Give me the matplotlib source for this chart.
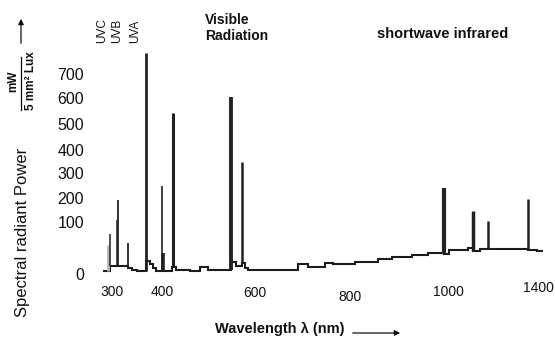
import numpy as np
import matplotlib
matplotlib.use("Agg")
import matplotlib.pyplot as plt

# ---------------- data ----------------
# continuum of the lamp spectrum as steps: edges (nm) and levels
step_edges_nm = [282, 296, 332, 340, 350, 367, 375, 381, 387, 421, 429, 460, 481, 498,
                 548, 559, 572, 578, 585, 691, 712, 747, 764, 810, 857, 886, 927, 959,
                 992, 1004, 1089, 1111, 1142, 1356, 1396, 1422]
step_levels = [7, 18, 14, 9.5, 8.5, 27, 21, 13.5, 8, 15, 9.5, 7, 16, 9.5,
               25.5, 18, 23, 13.5, 9.5, 21, 15, 23.5, 21, 25.5, 30, 34, 38.5,
               41.5, 40, 48, 51, 47, 50, 48, 46]
# emission lines
line_nm = [297, 309, 312.5, 332, 366.5, 398.5, 402, 422, 547.5, 572, 992, 1112, 1176, 1354]
line_power = [79, 113, 200, 61.5, 800, 256, 42, 546, 609, 354, 248, 153, 109, 204]
shadow_nm = [292]
shadow_power = [58]

xtick_values = [300, 400, 600, 800, 1000, 1400]
ytick_values = [0, 100, 200, 300, 400, 500, 600, 700]
band_labels = ["UVC", "UVB", "UVA"]

# ---------------- styles / layout ----------------
line_widths = [1.1, 1.1, 1.3, 1.3, 2.0, 1.2, 2.6, 2.2, 2.8, 1.8, 3.0, 2.5, 1.8, 1.8]
W, H = 555, 340

# broken (piecewise linear) axis scales, as in the original figure
X_VAL = np.array([300, 400, 600, 800, 1000, 1400.0])
X_POS = np.array([112, 162.5, 255, 350, 448, 538.0])
Y_VAL = np.array([0, 100, 200, 300, 400, 500, 600, 700.0])
Y_POS = -np.array([275, 223, 200, 175, 151, 125, 99, 76.0])


def piecewise(a, b):
    def f(v):
        v = np.asarray(v, float)
        out = np.interp(v, a, b)
        out = np.where(v < a[0], b[0] + (v - a[0]) * (b[1] - b[0]) / (a[1] - a[0]), out)
        out = np.where(v > a[-1], b[-1] + (v - a[-1]) * (b[-1] - b[-2]) / (a[-1] - a[-2]), out)
        return out
    return f


xf, xi = piecewise(X_VAL, X_POS), piecewise(X_POS, X_VAL)
yf, yi = piecewise(Y_VAL, Y_POS), piecewise(Y_POS, Y_VAL)

plt.rcParams['font.family'] = ['Liberation Sans', 'DejaVu Sans']

fig = plt.figure(figsize=(W / 100, H / 100), dpi=100)
ax = fig.add_axes([0, 0, 1, 1])
ax.set_xscale('function', functions=(xf, xi))
ax.set_yscale('function', functions=(yf, yi))
ax.set_xlim(float(xi(0)), float(xi(W)))
ax.set_ylim(float(yi(-H)), float(yi(0)))
ax.axis('off')

edges = np.array(step_edges_nm, float)
levels = np.array(step_levels, float)


def base_at(nm):
    idx = np.clip(np.searchsorted(edges, nm, side='right') - 1, 0, len(levels) - 1)
    return levels[idx]


ax.vlines(shadow_nm, base_at(np.array(shadow_nm)), shadow_power, colors='#b8b8b8', linewidths=2.0)
ax.stairs(levels, edges, baseline=None, color='#1c1c1c', linewidth=1.5)
ax.vlines(line_nm, base_at(np.array(line_nm)), line_power, colors='#222222',
          linewidths=line_widths)


def fx(px):
    return px / W


def fy(py):
    return 1 - py / H


# tick labels
xlabel_y = [292, 292, 293, 297, 292, 288]
for v, py in zip(xtick_values, xlabel_y):
    fig.text(float(xf(v)) / W, fy(py), str(v), ha='center', va='center', fontsize=10,
             color='#111111')
for v in ytick_values:
    fig.text(fx(84), fy(-float(yf(v))), str(v), ha='right', va='center', fontsize=11.5,
             color='#111111')

# band labels
for lab, px in zip(band_labels, [102.5, 117.5, 135]):
    fig.text(fx(px), fy(43), lab, rotation=90, ha='center', va='bottom', fontsize=8.5,
             color='#111111')

fig.text(fx(205), fy(28), "Visible\nRadiation", ha='left', va='center', fontsize=10,
         fontweight='bold', linespacing=1.25, color='#111111')
fig.text(fx(377), fy(34), "shortwave infrared", ha='left', va='center', fontsize=10.5,
         fontweight='bold', color='#111111')

# y axis label with unit fraction and arrow
fig.text(fx(22.5), fy(232), "Spectral radiant Power", rotation=90, ha='center', va='center',
         fontsize=12, color='#111111')
fig.text(fx(13), fy(81), "mW", rotation=90, ha='center', va='center', fontsize=8.5,
         fontweight='bold', color='#111111')
fig.text(fx(31), fy(81), "5 mm² Lux", rotation=90, ha='center', va='center', fontsize=8.5,
         fontweight='bold', color='#111111')
fig.add_artist(plt.Line2D([fx(21), fx(21)], [fy(57), fy(110)], color='#111111', lw=0.9))
ax.annotate("", xy=(fx(21), fy(16)), xytext=(fx(21), fy(46)), xycoords='figure fraction',
            arrowprops=dict(arrowstyle='-|>', color='#111111', lw=0.9, mutation_scale=8))

# x axis label with arrow
fig.text(fx(280), fy(329), "Wavelength λ (nm)", ha='center', va='center', fontsize=10.5,
         fontweight='bold', color='#111111')
ax.annotate("", xy=(fx(403), fy(333)), xytext=(fx(350), fy(333)), xycoords='figure fraction',
            arrowprops=dict(arrowstyle='-|>', color='#111111', lw=0.9, mutation_scale=8))

fig.savefig("out.png", dpi=100)
